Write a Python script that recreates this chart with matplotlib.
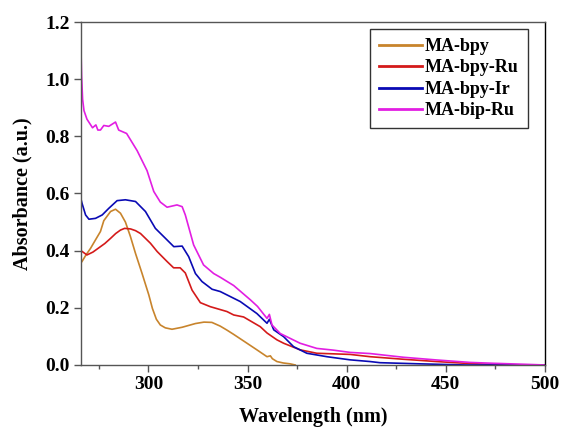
import matplotlib
matplotlib.use("Agg")
import matplotlib.pyplot as plt
from matplotlib.ticker import MultipleLocator

# MA-bpy
wl_bpy = [266.5, 268.5, 270.8, 273.5, 275.8, 277.5, 280.9, 283.4, 285.9, 288.4, 290.9,
          293.5, 296.8, 300.2, 302.0, 304.0, 306.0, 308.5, 311.9, 317.0, 323.7, 328.0, 332.0,
          336.2, 339.6, 343.0, 348.0, 354.7, 359.8, 361.5, 362.5, 364.8, 368.0, 371.5, 374.0]
ab_bpy = [0.362, 0.385, 0.408, 0.440, 0.467, 0.505, 0.537, 0.545, 0.531, 0.500, 0.450,
          0.390, 0.320, 0.245, 0.198, 0.160, 0.140, 0.130, 0.125, 0.132, 0.145, 0.150, 0.149,
          0.136, 0.122, 0.107, 0.084, 0.053, 0.029, 0.032, 0.022, 0.012, 0.007, 0.004, 0.0]

# MA-bpy-Ru
wl_ru = [266.0, 269.0, 272.0, 275.8, 278.0, 280.9, 283.5, 285.9, 288.0, 291.0, 293.5, 296.0,
         301.0, 304.4, 309.4, 312.7, 316.0, 318.6, 322.0, 326.2, 331.2, 339.6, 343.0, 348.0,
         356.4, 359.8, 364.8, 368.2, 376.5, 384.9, 401.7, 411.8, 428.6, 445.4, 462.0, 470.0,
         480.0, 500.0]
ab_ru = [0.400, 0.385, 0.395, 0.414, 0.425, 0.443, 0.460, 0.472, 0.478, 0.476, 0.470, 0.460,
         0.426, 0.397, 0.362, 0.340, 0.340, 0.322, 0.262, 0.218, 0.204, 0.187, 0.175, 0.168,
         0.134, 0.112, 0.088, 0.076, 0.053, 0.041, 0.037, 0.029, 0.020, 0.012, 0.005, 0.003,
         0.0, 0.0]

# MA-bpy-Ir
wl_ir = [266.0, 266.5, 268.3, 270.0, 273.3, 276.7, 280.0, 284.2, 288.4, 293.5, 298.5,
         303.5, 308.6, 312.8, 317.0, 320.3, 323.7, 327.0, 332.1, 336.2, 346.3, 354.7, 359.8,
         361.0, 363.2, 368.2, 373.2, 379.9, 390.0, 401.7, 411.8, 416.8, 436.8, 460.0, 500.0]
ab_ir = [0.580, 0.566, 0.525, 0.510, 0.513, 0.525, 0.548, 0.575, 0.578, 0.572, 0.537,
         0.478, 0.443, 0.414, 0.416, 0.379, 0.320, 0.292, 0.265, 0.257, 0.222, 0.180, 0.146,
         0.160, 0.123, 0.099, 0.064, 0.041, 0.029, 0.018, 0.012, 0.008, 0.004, 0.0, 0.0]

# MA-bip-Ru
wl_bip = [266.0, 266.3, 266.8, 267.5, 269.0, 271.8, 273.5, 274.5, 275.8, 277.5, 280.0,
          283.4, 285.0, 289.0, 294.3, 299.3, 302.7, 306.0, 309.4, 314.4, 317.0, 318.6,
          322.8, 327.8, 332.9, 336.2, 343.0, 351.4, 355.0, 359.8, 361.0, 362.3, 366.5,
          371.5, 376.5, 384.9, 393.2, 401.7, 411.8, 428.6, 445.4, 462.1, 473.7, 487.3, 500.0]
ab_bip = [1.100, 1.010, 0.930, 0.890, 0.860, 0.830, 0.840, 0.822, 0.822, 0.838, 0.835,
          0.850, 0.822, 0.810, 0.750, 0.680, 0.607, 0.570, 0.552, 0.560, 0.554, 0.525,
          0.420, 0.350, 0.320, 0.307, 0.278, 0.228, 0.205, 0.163, 0.177, 0.140, 0.110,
          0.093, 0.076, 0.058, 0.052, 0.044, 0.040, 0.027, 0.0175, 0.009, 0.006, 0.003, 0.0]

series = [
    ("MA-bpy", wl_bpy, ab_bpy, "#c8842c"),
    ("MA-bpy-Ru", wl_ru, ab_ru, "#d41a1a"),
    ("MA-bpy-Ir", wl_ir, ab_ir, "#0a0ab4"),
    ("MA-bip-Ru", wl_bip, ab_bip, "#e21ee2"),
]

plt.rcParams['font.family'] = ['Liberation Serif', 'DejaVu Serif']
plt.rcParams['font.weight'] = 'bold'

fig = plt.figure(figsize=(5.61, 4.30), dpi=100)
ax = fig.add_axes([0.1444, 0.1512, 0.8271, 0.7976])

for name, x, y, c in series:
    ax.plot(x, y, color=c, lw=1.2, label=name)

ax.set_xlim(266, 500)
ax.set_ylim(0, 1.2)
ax.xaxis.set_major_locator(MultipleLocator(50))
ax.xaxis.set_minor_locator(MultipleLocator(25))
ax.yaxis.set_major_locator(MultipleLocator(0.2))
ax.yaxis.set_major_formatter(matplotlib.ticker.FormatStrFormatter('%.1f'))

for s in ['left', 'bottom', 'top']:
    ax.spines[s].set_color('#555555')
ax.spines['right'].set_color('black')
for s in ax.spines.values():
    s.set_linewidth(1.0)

ax.tick_params(which='major', direction='out', length=5, width=1, color='#555555',
               labelsize=14, pad=3)
ax.tick_params(which='minor', direction='out', length=3, width=1, color='#555555')
for lab in ax.get_xticklabels() + ax.get_yticklabels():
    lab.set_fontweight('bold')

ax.set_xlabel('Wavelength (nm)', fontsize=14.5, fontweight='bold', labelpad=10)
ax.set_ylabel('Absorbance (a.u.)', fontsize=14.5, fontweight='bold', labelpad=9)

leg = ax.legend(loc='upper right', bbox_to_anchor=(0.963, 0.98), fontsize=13,
                frameon=True, fancybox=False, edgecolor='black', handlelength=2.4,
                handletextpad=0.15, labelspacing=0.25, borderpad=0.5, borderaxespad=0)
leg.get_frame().set_linewidth(1.0)
for t in leg.get_texts():
    t.set_fontweight('bold')
for l in leg.get_lines():
    l.set_linewidth(2)

fig.savefig('out.png', dpi=100)
